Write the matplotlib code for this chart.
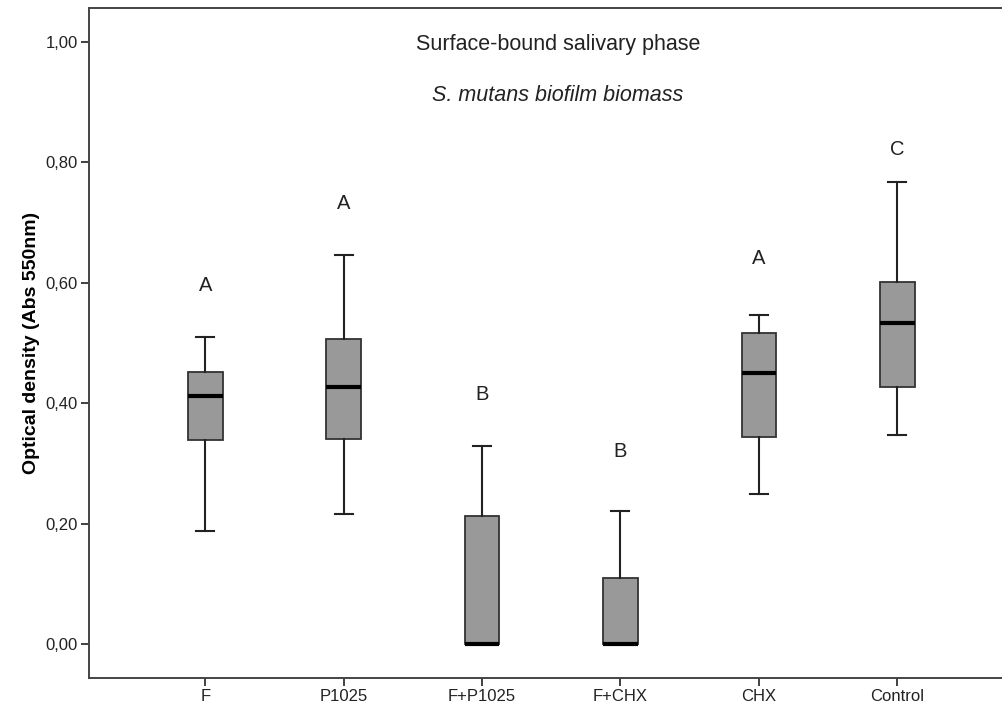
import matplotlib
matplotlib.use("Agg")
import matplotlib.pyplot as plt

# du lieu doc tu hinh
groups = ["F", "P1025", "F+P1025", "F+CHX", "CHX", "Control"]
whislo = [0.188, 0.216, 0.0, 0.0, 0.249, 0.348]
q1 = [0.339, 0.341, 0.0, 0.0, 0.344, 0.427]
med = [0.412, 0.427, 0.0, 0.0, 0.450, 0.533]
q3 = [0.451, 0.507, 0.213, 0.109, 0.516, 0.602]
whishi = [0.510, 0.646, 0.329, 0.221, 0.547, 0.768]
letters = ["A", "A", "B", "B", "A", "C"]
letter_y = [0.596, 0.731, 0.415, 0.319, 0.641, 0.822]
yticks = [0.0, 0.2, 0.4, 0.6, 0.8, 1.0]

plt.rcParams['font.family'] = ['Liberation Sans', 'DejaVu Sans']

fig = plt.figure(figsize=(10.03, 7.09), dpi=100)
ax = fig.add_axes([89 / 1003, 31 / 709, 924.5 / 1003, 670 / 709])

stats = []
for i, g in enumerate(groups):
    stats.append(dict(label=g, whislo=whislo[i], q1=q1[i], med=med[i],
                      q3=q3[i], whishi=whishi[i], fliers=[]))

pos = list(range(1, len(groups) + 1))
ax.bxp(stats, positions=pos, widths=0.25, patch_artist=True, showfliers=False,
       boxprops=dict(facecolor='#999999', edgecolor='#333333', linewidth=1.3),
       medianprops=dict(color='black', linewidth=3),
       whiskerprops=dict(color='#222222', linewidth=1.5),
       capprops=dict(color='#222222', linewidth=1.5),
       capwidths=0.13)

for i in range(len(groups)):
    ax.text(pos[i], letter_y[i], letters[i], ha='center', va='center',
            fontsize=14.5, color='#222222')

ax.text(0.507, 0.946, "Surface-bound salivary phase", transform=ax.transAxes,
        ha='center', va='center', fontsize=15.5, color='#222222')
ax.text(0.507, 0.869, "S. mutans biofilm biomass", transform=ax.transAxes,
        ha='center', va='center', fontsize=15.5, style='italic', color='#222222')

ax.set_xlim(0.16, 6.84)
ax.set_ylim(-0.0565, 1.0565)
ax.set_yticks(yticks)
ax.set_yticklabels([f"{v:.2f}".replace('.', ',') for v in yticks])
ax.set_xticks(pos)
ax.set_xticklabels(groups)
ax.tick_params(axis='both', length=6, width=1.3, color='#333333',
               labelsize=12, labelcolor='#222222')
ax.tick_params(axis='y', pad=2)
ax.tick_params(axis='x', pad=2)
ax.set_ylabel("Optical density (Abs 550nm)", fontsize=14, fontweight='bold',
              labelpad=4)

ax.spines['right'].set_visible(False)
for s in ['left', 'top', 'bottom']:
    ax.spines[s].set_color('#444444')
    ax.spines[s].set_linewidth(1.4)

fig.savefig("out.png", dpi=100)
